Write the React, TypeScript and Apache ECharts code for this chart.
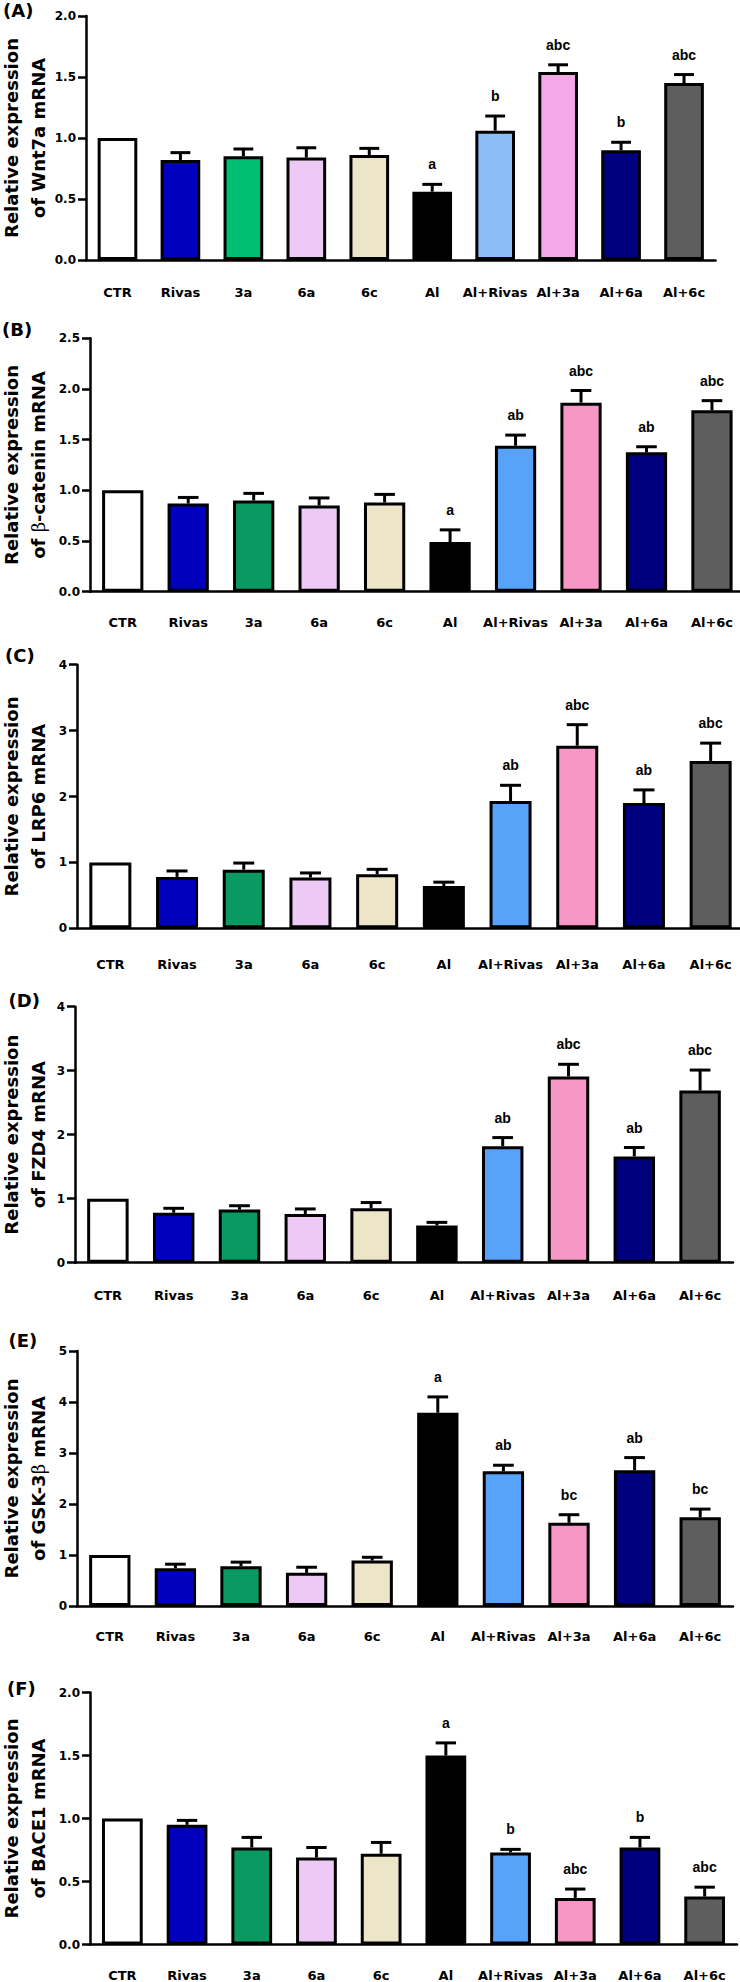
import React, { useEffect, useRef } from "react";
import * as echarts from "echarts";

// Treatment groups along every x axis
const groups = ["CTR", "Rivas", "3a", "6a", "6c", "Al", "Al+Rivas", "Al+3a", "Al+6a", "Al+6c"];

// Relative mRNA expression (mean, SEM) and significance letters per gene
const wnt7aMean = [1.0, 0.82, 0.85, 0.84, 0.86, 0.56, 1.06, 1.54, 0.9, 1.45];
const wnt7aSem = [0, 0.06, 0.06, 0.08, 0.055, 0.06, 0.12, 0.06, 0.065, 0.07];
const wnt7aSig = ["", "", "", "", "", "a", "b", "abc", "b", "abc"];

const ctnnbMean = [1.0, 0.87, 0.9, 0.85, 0.88, 0.49, 1.44, 1.865, 1.375, 1.79];
const ctnnbSem = [0, 0.06, 0.07, 0.075, 0.08, 0.12, 0.105, 0.12, 0.055, 0.095];
const ctnnbSig = ["", "", "", "", "", "a", "ab", "abc", "ab", "abc"];

const lrp6Mean = [1.0, 0.78, 0.89, 0.77, 0.82, 0.64, 1.93, 2.77, 1.9, 2.54];
const lrp6Sem = [0, 0.09, 0.1, 0.07, 0.075, 0.06, 0.24, 0.32, 0.2, 0.27];
const lrp6Sig = ["", "", "", "", "", "", "ab", "abc", "ab", "abc"];

const fzd4Mean = [1.0, 0.78, 0.83, 0.76, 0.85, 0.58, 1.82, 2.91, 1.66, 2.69];
const fzd4Sem = [0, 0.07, 0.06, 0.08, 0.09, 0.05, 0.135, 0.19, 0.14, 0.32];
const fzd4Sig = ["", "", "", "", "", "", "ab", "abc", "ab", "abc"];

const gsk3bMean = [1.0, 0.74, 0.78, 0.65, 0.89, 3.79, 2.64, 1.63, 2.66, 1.74];
const gsk3bSem = [0, 0.08, 0.08, 0.11, 0.065, 0.31, 0.12, 0.16, 0.25, 0.16];
const gsk3bSig = ["", "", "", "", "", "a", "ab", "bc", "ab", "bc"];

const bace1Mean = [1.0, 0.95, 0.77, 0.69, 0.72, 1.5, 0.73, 0.37, 0.77, 0.38];
const bace1Sem = [0, 0.035, 0.08, 0.08, 0.09, 0.1, 0.025, 0.07, 0.08, 0.075];
const bace1Sig = ["", "", "", "", "", "a", "b", "abc", "b", "abc"];

// Y axis ranges
const yMax = [2, 2.5, 4, 4, 5, 2];
const yStep = [0.5, 0.5, 1, 1, 1, 0.5];
const yDigits = [1, 1, 0, 0, 0, 1];

// Bar fills (panel A uses a lighter variant of some groups)
const fillsA = ["#FFFFFF", "#0000BE", "#00BF73", "#EDCAF6", "#EDE5C8", "#000000", "#8DBDF6", "#F5A8E8", "#00007E", "#5E5E5E"];
const fillsRest = ["#FFFFFF", "#0000BE", "#0A9960", "#EDCAF6", "#EDE5C8", "#000000", "#57A3F9", "#F797C6", "#00007E", "#5E5E5E"];

type Panel = {
  tag: string;
  title: string;
  mean: number[];
  sem: number[];
  sig: string[];
  fills: string[];
};

const panels: Panel[] = [
  { tag: "(A)", title: "Relative expression\nof Wnt7a mRNA", mean: wnt7aMean, sem: wnt7aSem, sig: wnt7aSig, fills: fillsA },
  { tag: "(B)", title: "Relative expression\nof {g|β}-catenin mRNA", mean: ctnnbMean, sem: ctnnbSem, sig: ctnnbSig, fills: fillsRest },
  { tag: "(C)", title: "Relative expression\nof LRP6 mRNA", mean: lrp6Mean, sem: lrp6Sem, sig: lrp6Sig, fills: fillsRest },
  { tag: "(D)", title: "Relative expression\nof FZD4 mRNA", mean: fzd4Mean, sem: fzd4Sem, sig: fzd4Sig, fills: fillsRest },
  { tag: "(E)", title: "Relative expression\nof GSK-3{g|β} mRNA", mean: gsk3bMean, sem: gsk3bSem, sig: gsk3bSig, fills: fillsRest },
  { tag: "(F)", title: "Relative expression\nof BACE1 mRNA", mean: bace1Mean, sem: bace1Sem, sig: bace1Sig, fills: fillsRest },
];

// Plot-area geometry of each panel on the page
const boxes = [
  { left: 86, top: 16, width: 629.5, height: 244, margin: 26, tagX: 3, tagY: 11.5 },
  { left: 90, top: 338.3, width: 654.7, height: 253.4, margin: 24.5, tagX: 2, tagY: 330 },
  { left: 77, top: 664.7, width: 667, height: 263.6, margin: 30, tagX: 5, tagY: 656 },
  { left: 75, top: 1006.7, width: 658, height: 256, margin: 26.5, tagX: 8.5, tagY: 1001.7 },
  { left: 77, top: 1351, width: 656, height: 255, margin: 24, tagX: 8.5, tagY: 1341.7 },
  { left: 90, top: 1692.5, width: 647, height: 252, margin: 24, tagX: 7, tagY: 1689.5 },
];

const HEAVY = '"DejaVu Sans", Verdana, sans-serif';
const ARIAL = '"Liberation Sans", Arial, sans-serif';
const BAR_SHARE = 0.63;

function errorRenderer(sem: number[], sig: string[]) {
  return (params: any, api: any) => {
    const i = params.dataIndex;
    const cat = api.value(0);
    const mean = api.value(1);
    const s = sem[i];
    const base = api.coord([cat, mean]);
    const top = api.coord([cat, mean + s]);
    const band = api.size([1, 0])[0];
    const half = band * BAR_SHARE * 0.25;
    const children: any[] = [];
    if (s > 0) {
      children.push({
        type: "line",
        shape: { x1: base[0], y1: base[1], x2: top[0], y2: top[1] },
        style: { stroke: "#000", lineWidth: 3 },
      });
      children.push({
        type: "line",
        shape: { x1: top[0] - half, y1: top[1], x2: top[0] + half, y2: top[1] },
        style: { stroke: "#000", lineWidth: 3 },
      });
    }
    if (sig[i]) {
      children.push({
        type: "text",
        style: {
          text: sig[i],
          x: top[0],
          y: top[1] - 20,
          align: "center",
          verticalAlign: "middle",
          fontFamily: ARIAL,
          fontWeight: "bold",
          fontSize: 14,
          fill: "#000",
        },
      });
    }
    return { type: "group", children };
  };
}

function buildOption() {
  const grid: any[] = [];
  const xAxis: any[] = [];
  const yAxis: any[] = [];
  const series: any[] = [];
  const graphic: any[] = [];

  panels.forEach((p, k) => {
    const b = boxes[k];
    grid.push({ left: b.left, top: b.top, width: b.width, height: b.height, outerBoundsMode: "none" });
    xAxis.push({
      type: "category",
      gridIndex: k,
      data: groups,
      axisLine: { lineStyle: { color: "#000", width: 2.5 } },
      axisTick: { alignWithLabel: true, length: 7, lineStyle: { color: "#000", width: 2.5 } },
      axisLabel: {
        interval: 0,
        margin: b.margin,
        color: "#000",
        fontFamily: HEAVY,
        fontWeight: "bold",
        fontSize: 13,
      },
      splitLine: { show: false },
    });
    yAxis.push({
      type: "value",
      gridIndex: k,
      min: 0,
      max: yMax[k],
      interval: yStep[k],
      axisLine: { show: true, lineStyle: { color: "#000", width: 2.5 } },
      axisTick: { show: true, length: 8, lineStyle: { color: "#000", width: 2.5 } },
      axisLabel: {
        margin: 10,
        color: "#000",
        fontFamily: HEAVY,
        fontWeight: "bold",
        fontSize: 12,
        formatter: (v: number) => v.toFixed(yDigits[k]),
      },
      splitLine: { show: false },
    });
    series.push({
      type: "bar",
      xAxisIndex: k,
      yAxisIndex: k,
      barWidth: BAR_SHARE * 100 + "%",
      data: p.mean.map((m, i) => ({
        value: m,
        itemStyle: { color: p.fills[i], borderColor: "#000", borderWidth: 3 },
      })),
      z: 2,
    });
    series.push({
      type: "custom",
      xAxisIndex: k,
      yAxisIndex: k,
      data: p.mean.map((m, i) => [i, m]),
      encode: { x: 0, y: 1 },
      renderItem: errorRenderer(p.sem, p.sig),
      z: 3,
    });

    graphic.push({
      type: "text",
      left: b.tagX,
      top: b.tagY - 10,
      style: { text: p.tag, fontFamily: HEAVY, fontWeight: "bold", fontSize: 18, fill: "#000" },
    });
    graphic.push({
      type: "text",
      x: 25,
      y: b.top + b.height / 2,
      rotation: Math.PI / 2,
      style: {
        text: p.title,
        align: "center",
        verticalAlign: "middle",
        fontFamily: HEAVY,
        fontWeight: "bold",
        fontSize: 18,
        lineHeight: 27,
        fill: "#000",
        rich: {
          g: {
            fontFamily: '"DejaVu Serif", "Liberation Serif", serif',
            fontWeight: "normal",
            fontSize: 18,
            lineHeight: 27,
            fill: "#000",
          },
        },
      },
    });
  });

  return {
    animation: false,
    backgroundColor: "#FFFFFF",
    grid,
    xAxis,
    yAxis,
    series,
    graphic,
  };
}

export default function App() {
  const ref = useRef<HTMLDivElement>(null);

  useEffect(() => {
    if (!ref.current) return;
    const chart = echarts.init(ref.current, null, { renderer: "svg", width: 740, height: 1982 });
    chart.setOption(buildOption() as any);
    return () => chart.dispose();
  }, []);

  return (
    <div
      ref={ref}
      style={{ position: "absolute", left: 0, top: 0, width: 740, height: 1982, background: "#FFFFFF" }}
    />
  );
}
